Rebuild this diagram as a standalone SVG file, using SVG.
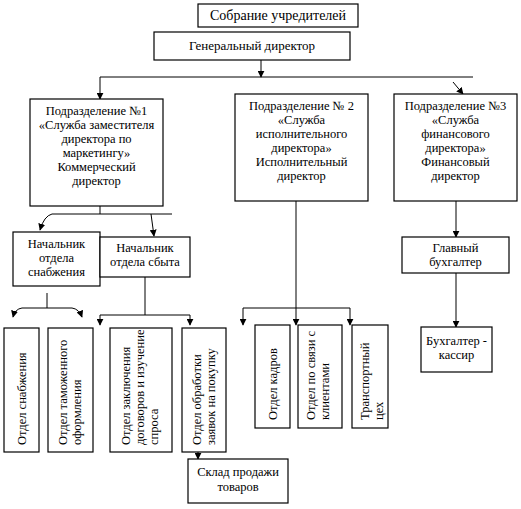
<svg xmlns="http://www.w3.org/2000/svg" width="521" height="509" viewBox="0 0 521 509">
<defs>
<marker id="ah" viewBox="0 0 10 10" refX="9" refY="5" markerWidth="7" markerHeight="7" markerUnits="userSpaceOnUse" orient="auto">
<path d="M0,0 L10,5 L0,10 z" fill="#000"/>
</marker>
<style>
.box{fill:#fff;stroke:#000;stroke-width:1.2}
.t{font-family:'Liberation Serif','DejaVu Serif',serif;font-size:12.5px;fill:#000;text-anchor:middle}
.v{font-family:'Liberation Serif','DejaVu Serif',serif;font-size:12.5px;fill:#000}
.c{fill:none;stroke:#000;stroke-width:1}
.a{marker-end:url(#ah)}
</style>
</defs>
<rect width="521" height="509" fill="#fff"/>

<g id="connectors">
<line class="c a" x1="261" y1="60" x2="261" y2="77"/>
<line class="c" x1="100" y1="77" x2="473" y2="77"/>
<line class="c a" x1="100" y1="77" x2="100" y2="99"/>
<line class="c a" x1="453" y1="82" x2="463" y2="94"/>
<line class="c" x1="100" y1="206" x2="100" y2="214"/>
<path class="c" d="M172,214 L52,214 Q44,216 40,230" marker-end="url(#ah)"/>
<line class="c a" x1="151" y1="214" x2="154" y2="236"/>
<line class="c" x1="47" y1="293" x2="47" y2="308"/>
<path class="c a" d="M47,308 L22,308 Q15,309 13,317"/>
<path class="c a" d="M47,308 L72,308 Q79,309 82,317"/>
<line class="c" x1="145" y1="277" x2="145" y2="315"/>
<polyline class="c a" points="145,315 100,315 100,325"/>
<polyline class="c a" points="145,315 190,315 190,325"/>
<line class="c a" x1="198" y1="452" x2="198" y2="459"/>
<line class="c a" x1="296" y1="201" x2="296" y2="325"/>
<polyline class="c a" points="296,308 243,308 243,325"/>
<polyline class="c a" points="296,308 350,308 350,325"/>
<line class="c a" x1="456" y1="201" x2="456" y2="237"/>
<line class="c a" x1="456" y1="273" x2="456" y2="327"/>
</g>

<g font-family="Liberation Serif, DejaVu Serif, serif">
<g id="sobranie">
<rect class="box" x="198" y="4" width="160" height="23"/>
<text class="t" x="278" y="20" style="font-size:14px">Собрание учредителей</text>
</g>
<g id="gendir">
<rect class="box" x="154" y="32" width="196" height="28"/>
<text class="t" x="252" y="50" style="font-size:13px">Генеральный директор</text>
</g>
<g id="pod1">
<rect class="box" x="30" y="99" width="133" height="107"/>
<text class="t" x="96.5" y="115">Подразделение №1</text>
<text class="t" x="96.5" y="129">«Служба заместителя</text>
<text class="t" x="96.5" y="143">директора по</text>
<text class="t" x="96.5" y="157">маркетингу»</text>
<text class="t" x="96.5" y="171">Коммерческий</text>
<text class="t" x="96.5" y="185">директор</text>
</g>
<g id="pod2">
<rect class="box" x="235" y="94" width="133" height="107"/>
<text class="t" x="301.5" y="110">Подразделение № 2</text>
<text class="t" x="301.5" y="124">«Служба</text>
<text class="t" x="301.5" y="138">исполнительного</text>
<text class="t" x="301.5" y="152">директора»</text>
<text class="t" x="301.5" y="166">Исполнительный</text>
<text class="t" x="301.5" y="180">директор</text>
</g>
<g id="pod3">
<rect class="box" x="394" y="94" width="123" height="107"/>
<text class="t" x="455.5" y="110">Подразделение №3</text>
<text class="t" x="455.5" y="124">«Служба</text>
<text class="t" x="455.5" y="138">финансового</text>
<text class="t" x="455.5" y="152">директора»</text>
<text class="t" x="455.5" y="166">Финансовый</text>
<text class="t" x="455.5" y="180">директор</text>
</g>
<g id="nach-snab">
<rect class="box" x="13" y="232" width="87" height="54"/>
<text class="t" x="56.5" y="248">Начальник</text>
<text class="t" x="56.5" y="262">отдела</text>
<text class="t" x="56.5" y="276">снабжения</text>
</g>
<g id="nach-sbyt">
<rect class="box" x="100" y="237" width="90" height="40"/>
<text class="t" x="145" y="252">Начальник</text>
<text class="t" x="145" y="266">отдела сбыта</text>
</g>
<g id="glavbuh">
<rect class="box" x="402" y="237" width="107" height="36"/>
<text class="t" x="455.5" y="252">Главный</text>
<text class="t" x="455.5" y="266">бухгалтер</text>
</g>
<g id="buh-kassir">
<rect class="box" x="421" y="327" width="71" height="45"/>
<text class="t" x="456.5" y="345">Бухгалтер -</text>
<text class="t" x="456.5" y="359">кассир</text>
</g>
<g id="otd-snab">
<rect class="box" x="4" y="328" width="35" height="124"/>
<text class="v" transform="translate(26,445) rotate(-90)">Отдел снабжения</text>
</g>
<g id="otd-tam">
<rect class="box" x="48" y="328" width="45" height="124"/>
<text class="v" transform="translate(67,445) rotate(-90)">Отдел таможенного</text>
<text class="v" transform="translate(81,445) rotate(-90)">оформления</text>
</g>
<g id="otd-zakl">
<rect class="box" x="110" y="328" width="62" height="124"/>
<text class="v" transform="translate(130,445) rotate(-90)">Отдел заключения</text>
<text class="v" transform="translate(144,445) rotate(-90)">договоров и изучение</text>
<text class="v" transform="translate(158,445) rotate(-90)">спроса</text>
</g>
<g id="otd-obrab">
<rect class="box" x="182" y="328" width="44" height="124"/>
<text class="v" transform="translate(201,445) rotate(-90)">Отдел обработки</text>
<text class="v" transform="translate(215,445) rotate(-90)">заявок на покупку</text>
</g>
<g id="sklad">
<rect class="box" x="188" y="459" width="100" height="44"/>
<text class="t" x="238" y="476">Склад продажи</text>
<text class="t" x="238" y="491">товаров</text>
</g>
<g id="otd-kadr">
<rect class="box" x="255" y="325" width="35" height="103"/>
<text class="v" transform="translate(277,420) rotate(-90)">Отдел кадров</text>
</g>
<g id="otd-svyaz">
<rect class="box" x="298" y="325" width="44" height="103"/>
<text class="v" transform="translate(315,420) rotate(-90)">Отдел по связи с</text>
<text class="v" transform="translate(329,420) rotate(-90)">клиентами</text>
</g>
<g id="transport">
<rect class="box" x="352" y="325" width="36" height="103"/>
<text class="v" transform="translate(369,420) rotate(-90)">Транспортный</text>
<text class="v" transform="translate(383,420) rotate(-90)">цех</text>
</g>
</g>
</svg>
